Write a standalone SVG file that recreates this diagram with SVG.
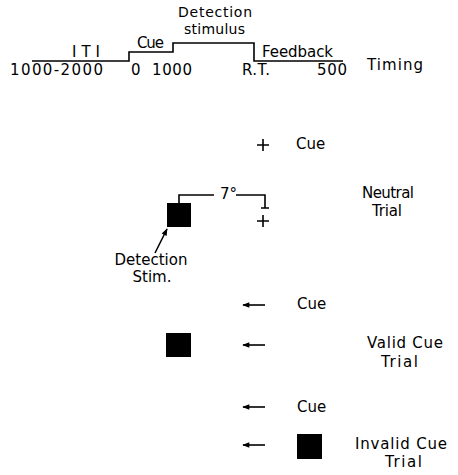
<svg xmlns="http://www.w3.org/2000/svg" width="458" height="475" viewBox="0 0 458 475">
<defs>
<style>
text{font-family:"DejaVu Sans","Liberation Sans",sans-serif;font-size:15px;fill:#000}
.sm{font-size:14px}
.ln{fill:none;stroke:#000;stroke-width:1.6}
.sq{fill:#000}
</style>
<marker id="ah" viewBox="0 0 10 10" refX="9" refY="5" markerWidth="8" markerHeight="7" orient="auto" markerUnits="userSpaceOnUse">
<path d="M10,5 L0,1 L0,9 Z" fill="#000"/>
</marker>
</defs>
<rect width="458" height="475" fill="#fff"/>

<g id="timing">
<path class="ln" d="M32,61 H129 V52 H173 V43 H254 V61 H343"/>
<text class="sm" x="178" y="17" textLength="74" lengthAdjust="spacing">Detection</text>
<text class="sm" x="184" y="34" textLength="61" lengthAdjust="spacing">stimulus</text>
<text x="72" y="57" textLength="28" lengthAdjust="spacing">ITI</text>
<text x="137" y="48" textLength="27" lengthAdjust="spacing">Cue</text>
<text x="262" y="57" textLength="71" lengthAdjust="spacing">Feedback</text>
<text x="10" y="75" textLength="93" lengthAdjust="spacing">1000-2000</text>
<text x="131" y="75">0</text>
<text x="152" y="75" textLength="40" lengthAdjust="spacing">1000</text>
<text x="242" y="75" textLength="28" lengthAdjust="spacing">R.T.</text>
<text x="317" y="75" textLength="30" lengthAdjust="spacing">500</text>
<text x="367" y="70" textLength="56" lengthAdjust="spacing">Timing</text>
</g>

<g id="neutral-cue">
<path class="ln" d="M257,145 H269 M263,139 V151" stroke-width="1.3"/>
<text x="296" y="149">Cue</text>
</g>

<g id="neutral-trial">
<rect class="sq" x="167" y="203" width="24" height="24"/>
<path class="ln" d="M179,203 V195 H214 M236,195 H265 V208 M261,208 H269" stroke-width="1.3"/>
<text x="220" y="199">7°</text>
<path class="ln" d="M257,221 H269 M263,215 V227" stroke-width="1.3"/>
<text x="362" y="198" textLength="52" lengthAdjust="spacing">Neutral</text>
<text x="372" y="216" textLength="30" lengthAdjust="spacing">Trial</text>
</g>

<g id="detection-label">
<text x="151" y="265" text-anchor="middle">Detection</text>
<text x="152" y="282" text-anchor="middle">Stim.</text>
</g>

<g id="valid-cue">
<text x="297" y="309">Cue</text>
</g>

<g id="valid-trial">
<rect class="sq" x="166" y="333" width="25" height="24"/>
<text x="367" y="348" textLength="76" lengthAdjust="spacing">Valid Cue</text>
<text x="381" y="367" textLength="37" lengthAdjust="spacing">Trial</text>
</g>

<g id="invalid-cue">
<text x="297" y="412">Cue</text>
</g>

<g id="invalid-trial">
<rect class="sq" x="297" y="434" width="25" height="25"/>
<text x="355" y="449" textLength="92" lengthAdjust="spacing">Invalid Cue</text>
<text x="385" y="467" textLength="37" lengthAdjust="spacing">Trial</text>
</g>

<g id="connectors">
<line class="ln" x1="155" y1="253" x2="167" y2="229" stroke-width="1.4" marker-end="url(#ah)"/>
<line class="ln" x1="265" y1="305" x2="243" y2="305" stroke-width="1.3" marker-end="url(#ah)"/>
<line class="ln" x1="265" y1="345" x2="243" y2="345" stroke-width="1.3" marker-end="url(#ah)"/>
<line class="ln" x1="265" y1="407" x2="243" y2="407" stroke-width="1.3" marker-end="url(#ah)"/>
<line class="ln" x1="265" y1="445" x2="243" y2="445" stroke-width="1.3" marker-end="url(#ah)"/>
</g>
</svg>
